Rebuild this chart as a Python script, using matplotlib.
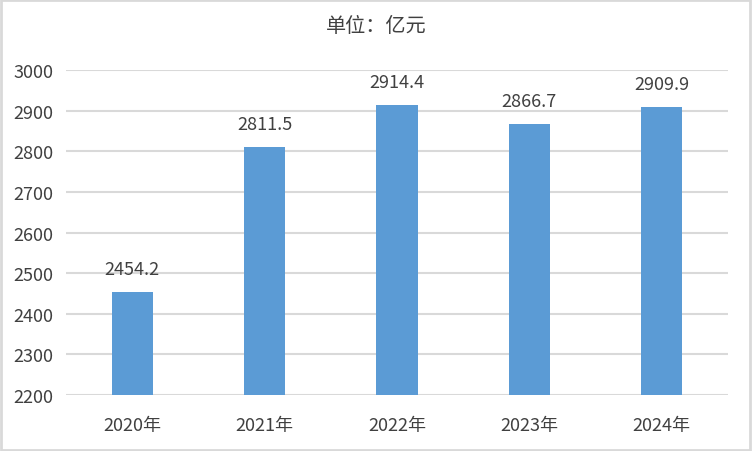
import matplotlib.pyplot as plt
from matplotlib.patches import Rectangle

plt.rcParams['font.family'] = ['Noto Sans CJK SC', 'DejaVu Sans']

years = ['2020年', '2021年', '2022年', '2023年', '2024年']
values = [2454.2, 2811.5, 2914.4, 2866.7, 2909.9]
yticks = [2200, 2300, 2400, 2500, 2600, 2700, 2800, 2900, 3000]

fig = plt.figure(figsize=(7.52, 4.52), dpi=100)
ax = fig.add_axes([66/752, 1-396/452, 662/752, 325/452])

x = range(len(years))
ax.bar(x, [v - 2200 for v in values], bottom=2200, width=0.31, color='#5b9bd5', zorder=3)
for i, v in enumerate(values):
    ax.annotate(f'{v:.1f}', (i, v), xytext=(0, 10), textcoords='offset points',
                ha='center', va='bottom', fontsize=13, color='#404040')

ax.set_xlim(-0.5, len(years) - 0.5)
ax.set_ylim(2200, 3000)
ax.set_yticks(yticks)
ax.set_xticks(list(x))
ax.set_xticklabels(years)
ax.tick_params(axis='both', length=0, labelsize=13, colors='#404040')
ax.tick_params(axis='x', pad=15)
ax.tick_params(axis='y', pad=9)
ax.grid(axis='y', color='#d9d9d9', linewidth=1.5, zorder=0)
for s in ax.spines.values():
    s.set_visible(False)

fig.text(0.5, 1-27/452, '单位：亿元', ha='center', va='center', fontsize=14.5, color='#404040')
fig.patches.append(Rectangle((0.001, 0.002), 0.997, 0.996, transform=fig.transFigure,
                             fill=False, edgecolor='#d9d9d9', linewidth=2))

fig.savefig('out.png', dpi=100)
